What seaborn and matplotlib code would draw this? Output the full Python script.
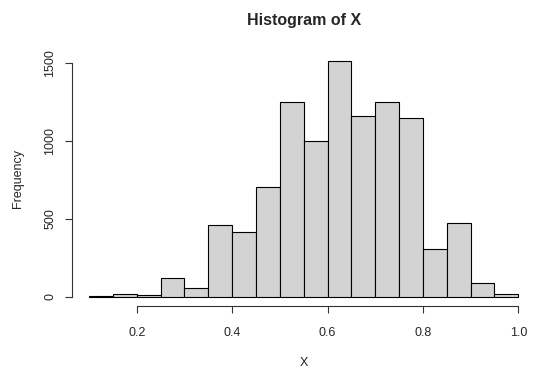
import numpy as np
import pandas as pd
import matplotlib
matplotlib.use("Agg")
import matplotlib.pyplot as plt
import seaborn as sns

bin_edges = [0.10, 0.15, 0.20, 0.25, 0.30, 0.35, 0.40, 0.45, 0.50, 0.55,
             0.60, 0.65, 0.70, 0.75, 0.80, 0.85, 0.90, 0.95, 1.00]
counts = [6, 19, 13, 122, 58, 459, 418, 705, 1251, 1003,
          1517, 1163, 1254, 1146, 304, 471, 90, 19]
x_ticks = [0.2, 0.4, 0.6, 0.8, 1.0]
y_ticks = [0, 500, 1000, 1500]

sns.set_style("white")
plt.rcParams['font.family'] = ['Liberation Sans', 'DejaVu Sans']

centers = [(a + b) / 2 for a, b in zip(bin_edges[:-1], bin_edges[1:])]
df = pd.DataFrame({"X": centers, "n": counts})

fig = plt.figure(figsize=(5.4, 3.73), dpi=100)
ax = fig.add_axes([0.133, 0.1794, 0.8587, 0.6833])
sns.histplot(data=df, x="X", weights="n", bins=bin_edges, ax=ax,
             color="#D3D3D3", edgecolor="black", linewidth=0.8, alpha=1)

ax.set_xlim(0.064, 1.036)
ax.set_ylim(-60.7, 1578)
for s in ["top", "right"]:
    ax.spines[s].set_visible(False)
ax.spines["bottom"].set_bounds(0.2, 1.0)
ax.spines["left"].set_bounds(0, 1500)
for s in ["bottom", "left"]:
    ax.spines[s].set_color("#333333")
    ax.spines[s].set_linewidth(0.8)
ax.set_xticks(x_ticks)
ax.set_xticklabels(["0.2", "0.4", "0.6", "0.8", "1.0"])
ax.set_yticks(y_ticks)
ax.set_yticklabels([str(v) for v in y_ticks], rotation=90, va="center")
ax.tick_params(axis="both", direction="out", length=5, width=0.8,
               color="#333333", labelsize=9, left=True, bottom=True)
ax.tick_params(axis="x", pad=10)
ax.tick_params(axis="y", pad=6)
ax.set_xlabel("X", fontsize=9, labelpad=13)
ax.set_ylabel("Frequency", fontsize=9, labelpad=15)
ax.set_title("Histogram of X", fontsize=11.5, fontweight="bold", pad=19)
ax.grid(False)

fig.savefig("out.png", dpi=100)
